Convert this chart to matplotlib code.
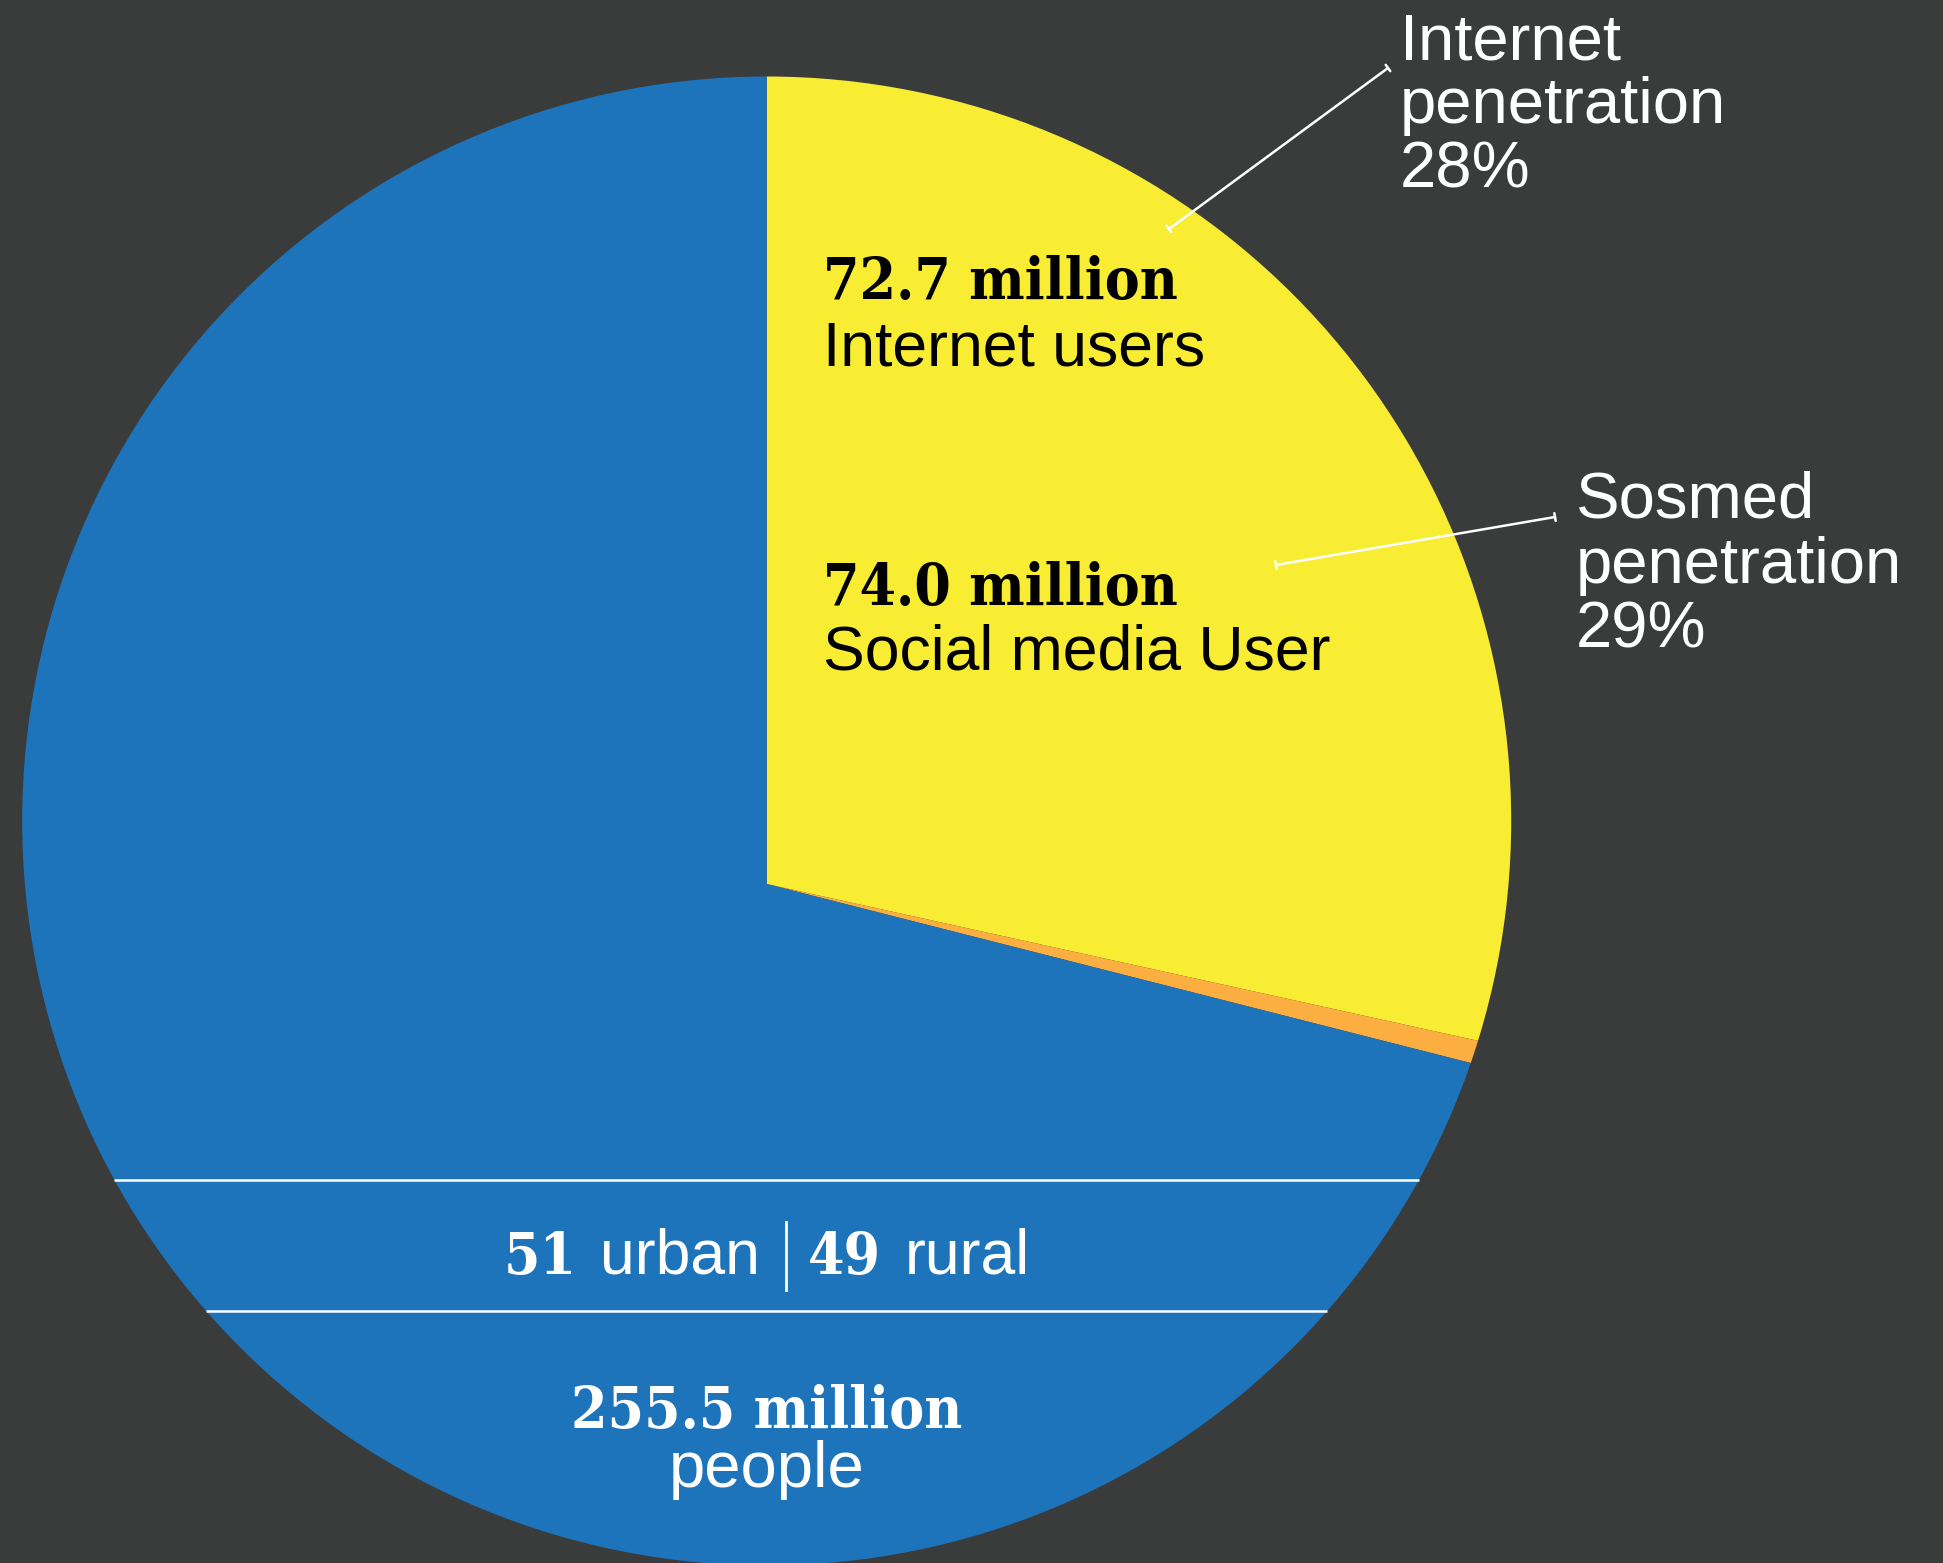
import matplotlib
matplotlib.use("Agg")
import matplotlib.pyplot as plt
from matplotlib.patches import Circle
import numpy as np

# population / usage figures (million)
population = 255.5
internet_users = 72.7
social_users = 74.0
urban_share = 51
rural_share = 49
internet_pen = 28
sosmed_pen = 29

slice_values = [internet_users, social_users - internet_users, population - social_users]
slice_colors = ["#f8ed33", "#fcae40", "#1e74bb"]

BG = "#3a3b3b"
SANS = ["Liberation Sans", "DejaVu Sans"]
SERIF = ["DejaVu Serif"]

W, H = 1943, 1563
fig = plt.figure(figsize=(W / 100, H / 100), dpi=100, facecolor=BG)
ax = fig.add_axes([0, 0, 1, 1])
ax.set_facecolor(BG)


def py(y):
    # pixel rows are counted from the top
    return H - y


cx, cy, R = 766.7, 821, 744.5   # pie outline
vx, vy = 766.7, 884             # point where the slices meet

outline = Circle((cx, py(cy)), R, transform=ax.transData)
wedges, _ = ax.pie(slice_values, colors=slice_colors, center=(vx, py(vy)), radius=900,
                   startangle=90, counterclock=False, wedgeprops=dict(linewidth=0))
for w in wedges:
    w.set_clip_on(True)
    w.set_clip_path(outline)

ax.set_xlim(0, W)
ax.set_ylim(0, H)
ax.set_aspect("equal")
ax.axis("off")

# urban / rural band
for y in (1180, 1311):
    half = np.sqrt(R ** 2 - (y - cy) ** 2)
    ax.plot([cx - half, cx + half], [py(y), py(y)], color="white", lw=1.8, solid_capstyle="butt")

big = 42
small = 45
note = 47
num = dict(family=SERIF, weight="bold", fontstretch="condensed", fontsize=big, va="baseline")

# labels inside the yellow slice
ax.text(823, py(299), "72.7 million", color="black", **num)
ax.text(823, py(365), "Internet users", family=SANS, fontsize=small, color="black", va="baseline")
ax.text(823, py(605), "74.0 million", color="black", **num)
ax.text(823, py(670), "Social media User", family=SANS, fontsize=small, color="black", va="baseline")

# labels inside the blue slice
ax.text(cx, py(1428), f"{population} million", color="white", ha="center", **num)
ax.text(cx, py(1487), "people", family=SANS, fontsize=note, color="white", ha="center", va="baseline")

row_y = py(1274)
ax.text(504, row_y, str(urban_share), color="white", **num)
ax.text(600, row_y, "urban", family=SANS, fontsize=small, color="white", va="baseline")
ax.plot([786, 786], [py(1222), py(1290)], color="white", lw=2)
ax.text(808, row_y, str(rural_share), color="white", **num)
ax.text(905, row_y, "rural", family=SANS, fontsize=small, color="white", va="baseline")

# penetration call-outs
for i, line in enumerate(["Internet", "penetration", f"{internet_pen}%"]):
    ax.text(1400, py(59 + 64.5 * i), line, family=SANS, fontsize=note, color="white", va="baseline")
for i, line in enumerate(["Sosmed", "penetration", f"{sosmed_pen}%"]):
    ax.text(1576, py(518 + 64.5 * i), line, family=SANS, fontsize=note, color="white", va="baseline")

leader = dict(arrowstyle="|-|,widthA=0.28,widthB=0.28", color="white", lw=1.8, shrinkA=0, shrinkB=0)
ax.annotate("", xy=(1169, py(229)), xytext=(1388, py(68)), arrowprops=leader)
ax.annotate("", xy=(1276, py(565)), xytext=(1555, py(517)), arrowprops=leader)

fig.savefig("out.png", dpi=100, facecolor=BG)
